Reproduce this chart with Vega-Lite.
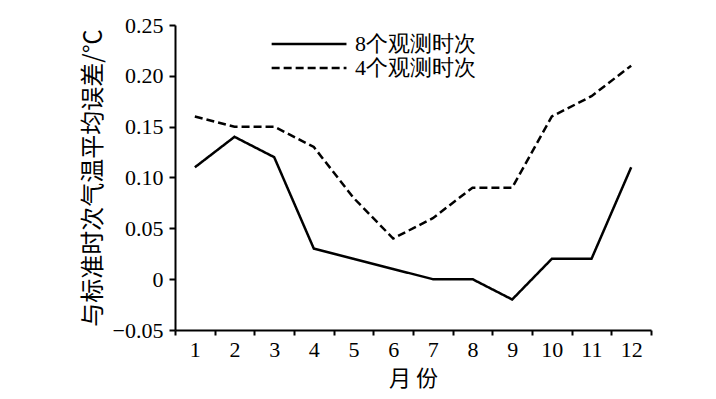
{
  "$schema": "https://vega.github.io/schema/vega-lite/v6.json",
  "width": 476,
  "height": 305,
  "autosize": {"type": "none"},
  "padding": {"left": 175, "top": 25, "right": 65, "bottom": 69},
  "background": "white",
  "config": {
    "view": {"stroke": null},
    "font": "Liberation Serif"
  },
  "data": {
    "values": [
      {"month": 1, "series": "8个观测时次", "value": 0.11},
      {"month": 2, "series": "8个观测时次", "value": 0.14},
      {"month": 3, "series": "8个观测时次", "value": 0.12},
      {"month": 4, "series": "8个观测时次", "value": 0.03},
      {"month": 5, "series": "8个观测时次", "value": 0.02},
      {"month": 6, "series": "8个观测时次", "value": 0.01},
      {"month": 7, "series": "8个观测时次", "value": 0.0},
      {"month": 8, "series": "8个观测时次", "value": 0.0},
      {"month": 9, "series": "8个观测时次", "value": -0.02},
      {"month": 10, "series": "8个观测时次", "value": 0.02},
      {"month": 11, "series": "8个观测时次", "value": 0.02},
      {"month": 12, "series": "8个观测时次", "value": 0.11},
      {"month": 1, "series": "4个观测时次", "value": 0.16},
      {"month": 2, "series": "4个观测时次", "value": 0.15},
      {"month": 3, "series": "4个观测时次", "value": 0.15},
      {"month": 4, "series": "4个观测时次", "value": 0.13},
      {"month": 5, "series": "4个观测时次", "value": 0.08},
      {"month": 6, "series": "4个观测时次", "value": 0.04},
      {"month": 7, "series": "4个观测时次", "value": 0.06},
      {"month": 8, "series": "4个观测时次", "value": 0.09},
      {"month": 9, "series": "4个观测时次", "value": 0.09},
      {"month": 10, "series": "4个观测时次", "value": 0.16},
      {"month": 11, "series": "4个观测时次", "value": 0.18},
      {"month": 12, "series": "4个观测时次", "value": 0.21}
    ]
  },
  "mark": {"type": "line", "color": "black", "strokeWidth": 2.5},
  "encoding": {
    "x": {
      "field": "month",
      "type": "quantitative",
      "scale": {"domain": [0.5, 12.5], "nice": false, "zero": false},
      "axis": {
        "title": "月 份",
        "values": [0.5, 1.5, 2.5, 3.5, 4.5, 5.5, 6.5, 7.5, 8.5, 9.5, 10.5, 11.5, 12.5],
        "labelExpr": "datum.value < 12 ? format(datum.value + 0.5, 'd') : ''",
        "labelOffset": 19.8,
        "labelFlush": false,
        "labelOverlap": false,
        "labelFontSize": 22,
        "labelFont": "Liberation Serif",
        "labelColor": "black",
        "labelPadding": 4,
        "titleFontSize": 22,
        "titleFont": "Noto Sans CJK SC",
        "titleFontWeight": "normal",
        "titleColor": "black",
        "titlePadding": 8,
        "grid": false,
        "domainColor": "black",
        "domainWidth": 2,
        "tickColor": "black",
        "tickWidth": 2,
        "tickSize": 5
      }
    },
    "y": {
      "field": "value",
      "type": "quantitative",
      "scale": {"domain": [-0.05, 0.25], "nice": false, "zero": false},
      "axis": {
        "title": "与标准时次气温平均误差/℃",
        "values": [-0.05, 0, 0.05, 0.1, 0.15, 0.2, 0.25],
        "labelExpr": "abs(datum.value) < 1e-9 ? '0' : format(datum.value, '.2f')",
        "labelFontSize": 22,
        "labelFont": "Liberation Serif",
        "labelColor": "black",
        "labelPadding": 6,
        "labelFlush": false,
        "labelOverlap": false,
        "titleFontSize": 24,
        "titleFont": "Noto Sans CJK SC",
        "titleFontWeight": "normal",
        "titleColor": "black",
        "titlePadding": 7,
        "grid": false,
        "domainColor": "black",
        "domainWidth": 2,
        "tickColor": "black",
        "tickWidth": 2,
        "tickSize": 6
      }
    },
    "strokeDash": {
      "field": "series",
      "type": "nominal",
      "scale": {"domain": ["8个观测时次", "4个观测时次"], "range": [[1, 0], [8, 4]]},
      "legend": {
        "title": null,
        "orient": "none",
        "legendX": 95,
        "legendY": 8,
        "symbolType": "M-1,0H7",
        "symbolSize": 350,
        "symbolStrokeWidth": 2.5,
        "symbolStrokeColor": "black",
        "labelFontSize": 22,
        "labelColor": "black",
        "labelFont": "Liberation Serif",
        "labelOffset": 63,
        "rowPadding": 2
      }
    }
  }
}
